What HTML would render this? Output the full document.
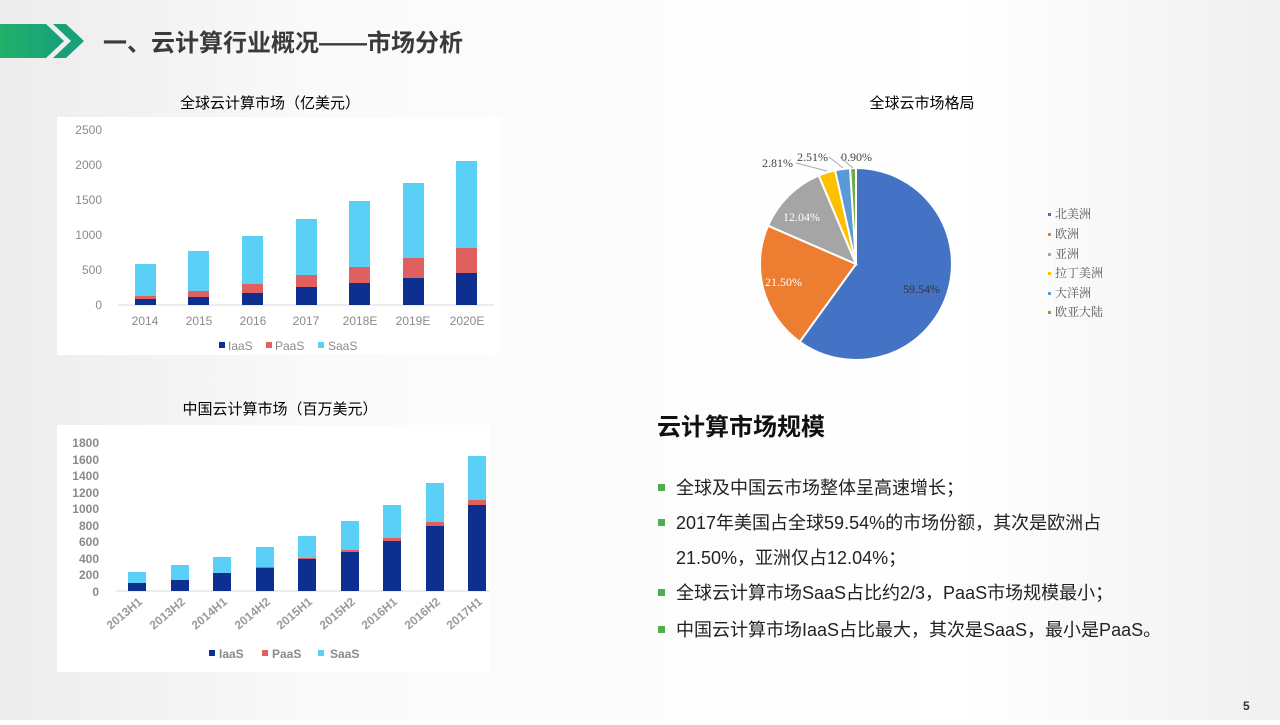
<!DOCTYPE html>
<html><head><meta charset="utf-8">
<style>
html,body{margin:0;padding:0;}
body{width:1280px;height:720px;overflow:hidden;background:#fff;font-family:"Liberation Sans","Noto Sans CJK SC",sans-serif;}
</style></head>
<body>
<svg width="1280" height="720" xmlns="http://www.w3.org/2000/svg" font-family="Liberation Sans, Noto Sans CJK SC, sans-serif">
<defs>
<linearGradient id="bg" x1="0" y1="0" x2="1" y2="0">
<stop offset="0" stop-color="#ececec"/><stop offset="0.25" stop-color="#fafafa"/><stop offset="0.75" stop-color="#ffffff"/><stop offset="1" stop-color="#f0f0f0"/></linearGradient>
<linearGradient id="gr" x1="0" y1="0" x2="1" y2="0"><stop offset="0" stop-color="#22b06a"/><stop offset="1" stop-color="#17a07a"/></linearGradient>
</defs>
<rect width="1280" height="720" fill="url(#bg)"/>
<polygon points="0,24 46,24 64,41 46,58 0,58" fill="url(#gr)"/>
<polygon points="53,24 66,24 84,41 66,58 53,58 71,41" fill="#17a07a"/>
<text x="103" y="51" font-size="24" font-weight="bold" fill="#3a3a3a">一、云计算行业概况——市场分析</text>

<!-- chart 1 -->
<rect x="57" y="117" width="443" height="238" fill="#fff"/>
<text x="270" y="108" font-size="15" fill="#000" text-anchor="middle">全球云计算市场（亿美元）</text>
<g font-size="12" fill="#8a8a8a" text-anchor="end">
<text x="102" y="134">2500</text><text x="102" y="169">2000</text><text x="102" y="204">1500</text>
<text x="102" y="239">1000</text><text x="102" y="274">500</text><text x="102" y="309">0</text>
</g>
<line x1="118" y1="305" x2="494" y2="305" stroke="#d9d9d9"/>
<g>
<rect x="135" y="264" width="21" height="32" fill="#5bd0f7"/><rect x="135" y="296" width="21" height="3" fill="#e06060"/><rect x="135" y="299" width="21" height="6" fill="#0d2f8f"/>
<rect x="188" y="251" width="21" height="40" fill="#5bd0f7"/><rect x="188" y="291" width="21" height="6" fill="#e06060"/><rect x="188" y="297" width="21" height="8" fill="#0d2f8f"/>
<rect x="242" y="236" width="21" height="48" fill="#5bd0f7"/><rect x="242" y="284" width="21" height="9" fill="#e06060"/><rect x="242" y="293" width="21" height="12" fill="#0d2f8f"/>
<rect x="296" y="219" width="21" height="56" fill="#5bd0f7"/><rect x="296" y="275" width="21" height="12" fill="#e06060"/><rect x="296" y="287" width="21" height="18" fill="#0d2f8f"/>
<rect x="349" y="201" width="21" height="66" fill="#5bd0f7"/><rect x="349" y="267" width="21" height="16" fill="#e06060"/><rect x="349" y="283" width="21" height="22" fill="#0d2f8f"/>
<rect x="403" y="183" width="21" height="75" fill="#5bd0f7"/><rect x="403" y="258" width="21" height="20" fill="#e06060"/><rect x="403" y="278" width="21" height="27" fill="#0d2f8f"/>
<rect x="456" y="161" width="21" height="87" fill="#5bd0f7"/><rect x="456" y="248" width="21" height="25" fill="#e06060"/><rect x="456" y="273" width="21" height="32" fill="#0d2f8f"/>
</g>
<g font-size="12" fill="#8a8a8a" text-anchor="middle">
<text x="145" y="325">2014</text><text x="199" y="325">2015</text><text x="253" y="325">2016</text><text x="306" y="325">2017</text><text x="360" y="325">2018E</text><text x="413" y="325">2019E</text><text x="467" y="325">2020E</text>
</g>
<g font-size="12" fill="#8a8a8a">
<rect x="219" y="342" width="6" height="6" fill="#0d2f8f"/><text x="228" y="350">IaaS</text>
<rect x="266" y="342" width="6" height="6" fill="#e06060"/><text x="275" y="350">PaaS</text>
<rect x="318" y="342" width="6" height="6" fill="#5bd0f7"/><text x="328" y="350">SaaS</text>
</g>

<!-- chart 2 -->
<rect x="57" y="425" width="433" height="247" fill="#fff"/>
<text x="280" y="414" font-size="15" fill="#000" text-anchor="middle">中国云计算市场（百万美元）</text>
<g font-size="12" fill="#8a8a8a" text-anchor="end" font-weight="bold">
<text x="99" y="447">1800</text><text x="99" y="464">1600</text><text x="99" y="480">1400</text><text x="99" y="497">1200</text><text x="99" y="513">1000</text>
<text x="99" y="530">800</text><text x="99" y="546">600</text><text x="99" y="563">400</text><text x="99" y="579">200</text><text x="99" y="596">0</text>
</g>
<line x1="116" y1="591" x2="490" y2="591" stroke="#d9d9d9"/>
<g>
<rect x="128" y="572" width="18" height="11" fill="#5bd0f7"/><rect x="128" y="583" width="18" height="8" fill="#0d2f8f"/>
<rect x="171" y="565" width="18" height="15" fill="#5bd0f7"/><rect x="171" y="580" width="18" height="11" fill="#0d2f8f"/>
<rect x="213" y="557" width="18" height="16" fill="#5bd0f7"/><rect x="213" y="573" width="18" height="18" fill="#0d2f8f"/>
<rect x="256" y="547" width="18" height="20" fill="#5bd0f7"/><rect x="256" y="567" width="18" height="1" fill="#e06060"/><rect x="256" y="568" width="18" height="23" fill="#0d2f8f"/>
<rect x="298" y="536" width="18" height="22" fill="#5bd0f7"/><rect x="298" y="558" width="18" height="1.5" fill="#e06060"/><rect x="298" y="559" width="18" height="32" fill="#0d2f8f"/>
<rect x="341" y="521" width="18" height="29" fill="#5bd0f7"/><rect x="341" y="550" width="18" height="2" fill="#e06060"/><rect x="341" y="552" width="18" height="39" fill="#0d2f8f"/>
<rect x="383" y="505" width="18" height="33" fill="#5bd0f7"/><rect x="383" y="538" width="18" height="3" fill="#e06060"/><rect x="383" y="541" width="18" height="50" fill="#0d2f8f"/>
<rect x="426" y="483" width="18" height="39" fill="#5bd0f7"/><rect x="426" y="522" width="18" height="4" fill="#e06060"/><rect x="426" y="526" width="18" height="65" fill="#0d2f8f"/>
<rect x="468" y="456" width="18" height="44" fill="#5bd0f7"/><rect x="468" y="500" width="18" height="5" fill="#e06060"/><rect x="468" y="505" width="18" height="86" fill="#0d2f8f"/>
</g>
<g font-size="12" fill="#9a9a9a" font-weight="bold" text-anchor="end">
<text transform="translate(143,603) rotate(-40)">2013H1</text>
<text transform="translate(186,603) rotate(-40)">2013H2</text>
<text transform="translate(228,603) rotate(-40)">2014H1</text>
<text transform="translate(271,603) rotate(-40)">2014H2</text>
<text transform="translate(313,603) rotate(-40)">2015H1</text>
<text transform="translate(356,603) rotate(-40)">2015H2</text>
<text transform="translate(398,603) rotate(-40)">2016H1</text>
<text transform="translate(441,603) rotate(-40)">2016H2</text>
<text transform="translate(483,603) rotate(-40)">2017H1</text>
</g>
<g font-size="12" fill="#8a8a8a" font-weight="bold">
<rect x="209" y="650" width="6" height="6" fill="#0d2f8f"/><text x="219" y="658">IaaS</text>
<rect x="262" y="650" width="6" height="6" fill="#e06060"/><text x="272" y="658">PaaS</text>
<rect x="318" y="650" width="6" height="6" fill="#5bd0f7"/><text x="330" y="658">SaaS</text>
</g>

<!-- pie -->
<text x="922" y="108" font-size="15" fill="#000" text-anchor="middle">全球云市场格局</text>
<g stroke="#fff" stroke-width="2">
<path d="M856,264 L856,168 A96,96 0 1 1 799.7,341.8 Z" fill="#4472c4"/>
<path d="M856,264 L799.7,341.8 A96,96 0 0 1 768,225.7 Z" fill="#ed7d31"/>
<path d="M856,264 L768,225.7 A96,96 0 0 1 818.8,175.5 Z" fill="#a5a5a5"/>
<path d="M856,264 L818.8,175.5 A96,96 0 0 1 835.1,170.3 Z" fill="#ffc000"/>
<path d="M856,264 L835.1,170.3 A96,96 0 0 1 850.1,168.2 Z" fill="#5b9bd5"/>
<path d="M856,264 L850.1,168.2 A96,96 0 0 1 856,168 Z" fill="#70ad47"/>
</g>
<g font-family="Liberation Serif, Noto Serif CJK SC, serif" font-size="12">
<text x="903" y="293" fill="#333">59.54%</text>
<text x="765" y="286" fill="#fff">21.50%</text>
<text x="783" y="221" fill="#fff">12.04%</text>
<text x="762" y="167" fill="#444">2.81%</text>
<text x="797" y="161" fill="#444">2.51%</text>
<text x="841" y="161" fill="#444">0.90%</text>
</g>
<polyline points="796,163 827,171" stroke="#aaa" fill="none"/>
<polyline points="829,157 843,168" stroke="#aaa" fill="none"/>
<polyline points="840,157 853,168" stroke="#aaa" fill="none"/>
<g font-family="Liberation Serif, Noto Serif CJK SC, serif" font-size="12" fill="#555">
<rect x="1048" y="213" width="3" height="3" fill="#4472c4"/><text x="1055" y="218">北美洲</text>
<rect x="1048" y="233" width="3" height="3" fill="#ed7d31"/><text x="1055" y="238">欧洲</text>
<rect x="1048" y="253" width="3" height="3" fill="#a5a5a5"/><text x="1055" y="258">亚洲</text>
<rect x="1048" y="272" width="3" height="3" fill="#ffc000"/><text x="1055" y="277">拉丁美洲</text>
<rect x="1048" y="292" width="3" height="3" fill="#5b9bd5"/><text x="1055" y="297">大洋洲</text>
<rect x="1048" y="311" width="3" height="3" fill="#70ad47"/><text x="1055" y="316">欧亚大陆</text>
</g>

<!-- text -->
<text x="657" y="435" font-size="24" font-weight="bold" fill="#111">云计算市场规模</text>
<g font-size="18" fill="#222">
<rect x="658" y="484" width="7" height="7" fill="#4caf50"/><text x="676" y="494">全球及中国云市场整体呈高速增长；</text>
<rect x="658" y="519" width="7" height="7" fill="#4caf50"/><text x="676" y="529">2017年美国占全球59.54%的市场份额，其次是欧洲占</text>
<text x="676" y="564">21.50%，亚洲仅占12.04%；</text>
<rect x="658" y="589" width="7" height="7" fill="#4caf50"/><text x="676" y="599">全球云计算市场SaaS占比约2/3，PaaS市场规模最小；</text>
<rect x="658" y="626" width="7" height="7" fill="#4caf50"/><text x="676" y="636">中国云计算市场IaaS占比最大，其次是SaaS，最小是PaaS。</text>
</g>
<text x="1243" y="710" font-size="12" font-weight="bold" fill="#333">5</text>
</svg>
</body></html>
